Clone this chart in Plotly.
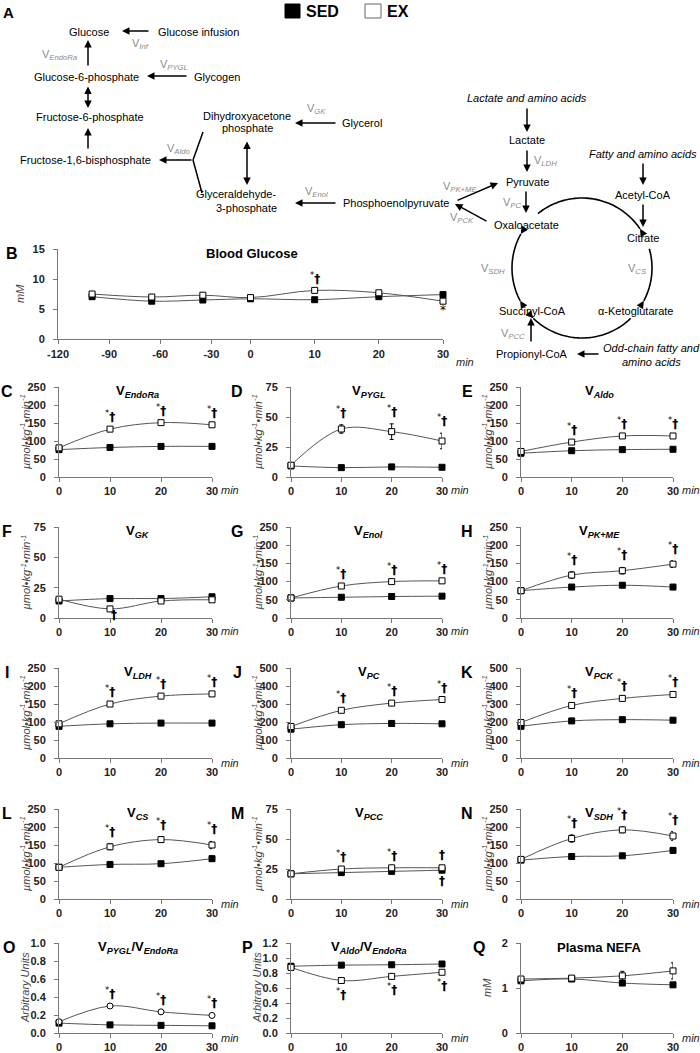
import numpy as np
import plotly.graph_objects as go

W, H = 700, 1053
FONT = "Liberation Sans, Arial, sans-serif"
SIG_FONT = "DejaVu Sans, Liberation Sans, sans-serif"
LINE = "#555555"
AXIS = "#777777"
V_GRAY = "#8a8a8a"

# ---- data ----
T = [0, 10, 20, 30]

B_TIME = [-100, -65, -35, 0, 10, 20, 30]
B_SED = [7.05, 6.3, 6.5, 6.7, 6.55, 7.05, 7.4]
B_EX = [7.5, 7.0, 7.3, 6.9, 8.1, 7.7, 6.3]
B_TICKS = [-120, -90, -60, -30, 0, 10, 20, 30]

ENDORA_SED = [76, 82, 85, 85]
ENDORA_EX = [81, 133, 151, 145]
PYGL_SED = [9.2, 7.8, 8.4, 8.1]
PYGL_EX = [9.8, 40, 37.8, 30]
PYGL_EX_ERR = [2, 3.5, 6.5, 6.5]
ALDO_SED = [66, 73, 76, 77]
ALDO_EX = [71, 97, 114, 114]
GK_SED = [14, 16, 16, 17.5]
GK_EX = [15.5, 7.5, 14, 15]
ENOL_SED = [55, 57, 59, 60]
ENOL_EX = [55, 88, 100, 102]
PKME_SED = [75, 85, 90, 85]
PKME_EX = [75, 118, 130, 148]
PKME_EX_ERR = [5, 9, 9, 9]
LDH_SED = [88, 95, 97, 97]
LDH_EX = [95, 150, 172, 178]
PC_SED = [160, 185, 192, 190]
PC_EX = [175, 265, 305, 325]
PCK_SED = [176, 206, 213, 210]
PCK_EX = [197, 292, 331, 353]
CS_SED = [88, 96, 98, 112]
CS_SED_ERR = [5, 4, 5, 8]
CS_EX = [88, 145, 165, 150]
CS_EX_ERR = [5, 8, 8, 10]
PCC_SED = [21, 22, 23, 24]
PCC_EX = [21, 25, 26, 26]
SDH_SED = [108, 118, 120, 135]
SDH_SED_ERR = [4, 4, 4, 8]
SDH_EX = [110, 168, 192, 175]
SDH_EX_ERR = [5, 10, 8, 12]
PYGL_RATIO_SED = [0.11, 0.09, 0.085, 0.08]
PYGL_RATIO_EX = [0.125, 0.30, 0.235, 0.195]
ALDO_RATIO_SED = [0.89, 0.905, 0.91, 0.92]
ALDO_RATIO_EX = [0.875, 0.70, 0.755, 0.81]
NEFA_SED = [1.16, 1.2, 1.11, 1.07]
NEFA_SED_ERR = [0.03, 0.03, 0.04, 0.05]
NEFA_EX = [1.2, 1.22, 1.27, 1.38]
NEFA_EX_ERR = [0.05, 0.04, 0.1, 0.18]

UNITS = "<i>µmol•kg<sup>-1</sup>•min<sup>-1</sup></i>"
SIG = "<sup>*</sup><b>†</b>"
ALL3 = [(10, SIG, 1), (20, SIG, 1), (30, SIG, 1)]

PANELS = [
    dict(letter="C", title="V<sub><i>EndoRa</i></sub>", sed=ENDORA_SED, ex=ENDORA_EX, ymax=250, dtick=50, ylab=UNITS, sig=ALL3),
    dict(letter="D", title="V<sub><i>PYGL</i></sub>", sed=PYGL_SED, ex=PYGL_EX, ex_err=PYGL_EX_ERR, ymax=75, dtick=25, ylab=UNITS, sig=ALL3),
    dict(letter="E", title="V<sub><i>Aldo</i></sub>", sed=ALDO_SED, ex=ALDO_EX, ymax=250, dtick=50, ylab=UNITS, sig=ALL3),
    dict(letter="F", title="V<sub><i>GK</i></sub>", sed=GK_SED, ex=GK_EX, ymax=75, dtick=25, ylab=UNITS, sig=[(10, "<b>†</b>", -1)]),
    dict(letter="G", title="V<sub><i>Enol</i></sub>", sed=ENOL_SED, ex=ENOL_EX, ymax=250, dtick=50, ylab=UNITS, sig=ALL3),
    dict(letter="H", title="V<sub><i>PK+ME</i></sub>", sed=PKME_SED, ex=PKME_EX, ex_err=PKME_EX_ERR, ymax=250, dtick=50, ylab=UNITS, sig=ALL3),
    dict(letter="I", title="V<sub><i>LDH</i></sub>", sed=LDH_SED, ex=LDH_EX, ymax=250, dtick=50, ylab=UNITS, sig=ALL3),
    dict(letter="J", title="V<sub><i>PC</i></sub>", sed=PC_SED, ex=PC_EX, ymax=500, dtick=100, ylab=UNITS, sig=ALL3),
    dict(letter="K", title="V<sub><i>PCK</i></sub>", sed=PCK_SED, ex=PCK_EX, ymax=500, dtick=100, ylab=UNITS, sig=ALL3),
    dict(letter="L", title="V<sub><i>CS</i></sub>", sed=CS_SED, ex=CS_EX, sed_err=CS_SED_ERR, ex_err=CS_EX_ERR, ymax=250, dtick=50, ylab=UNITS, sig=ALL3),
    dict(letter="M", title="V<sub><i>PCC</i></sub>", sed=PCC_SED, ex=PCC_EX, ymax=75, dtick=25, ylab=UNITS,
         sig=[(10, SIG, 1), (20, SIG, 1), (30, "<b>†</b>", 1), (30, "<b>†</b>", -1)]),
    dict(letter="N", title="V<sub><i>SDH</i></sub>", sed=SDH_SED, ex=SDH_EX, sed_err=SDH_SED_ERR, ex_err=SDH_EX_ERR, ymax=250, dtick=50, ylab=UNITS, sig=ALL3),
    dict(letter="O", title="V<sub><i>PYGL</i></sub>/V<sub><i>EndoRa</i></sub>", sed=PYGL_RATIO_SED, ex=PYGL_RATIO_EX, ymax=1.0, dtick=0.2, fmt=".1f", ylab="<i>Arbitrary Units</i>", sig=ALL3, ex_symbol="circle"),
    dict(letter="P", title="V<sub><i>Aldo</i></sub>/V<sub><i>EndoRa</i></sub>", sed=ALDO_RATIO_SED, ex=ALDO_RATIO_EX, ymax=1.2, dtick=0.2, fmt=".1f", ylab="<i>Arbitrary Units</i>",
         sig=[(10, SIG, -1), (20, SIG, -1), (30, SIG, -1)]),
    dict(letter="Q", title="Plasma NEFA", sed=NEFA_SED, ex=NEFA_EX, sed_err=NEFA_SED_ERR, ex_err=NEFA_EX_ERR, ymax=2, dtick=1, ylab="<i>mM</i>", sig=[]),
]

COLS = [(59, 212), (291, 442), (521, 673)]
ROWS = [(387, 477), (527, 618), (668, 758), (809, 899), (943, 1033)]


def px(x):
    return x / W


def py(y):
    return 1 - y / H


def b_axis(t):
    # broken time axis of panel B: basal period compressed
    return np.interp(t, [-120, -30, 0, 30], [-30, -6.1, 0, 30])


fig = go.Figure()
annotations = []
shapes = []
layout_axes = {}

tick_font = dict(family=FONT, size=11, color="#222222", weight="bold")
axis_common = dict(showgrid=False, zeroline=False, showline=True, linecolor=AXIS, linewidth=1,
                   ticks="outside", ticklen=4, tickcolor=AXIS, tickwidth=1, tickfont=tick_font,
                   fixedrange=True, automargin=False)


def text(x, y, s, size=11, color="black", anchor="center", angle=0, **kw):
    annotations.append(dict(x=px(x), y=py(y), xref="paper", yref="paper", text=s, showarrow=False,
                            xanchor=anchor, yanchor="middle", textangle=angle,
                            font=dict(family=FONT, size=size, color=color), **kw))


def arrow(x0, y0, x1, y1, both=False):
    annotations.append(dict(x=px(x1), y=py(y1), xref="paper", yref="paper", ax=x0 - x1, ay=y0 - y1,
                            axref="pixel", ayref="pixel", text="", showarrow=True, arrowhead=2,
                            arrowsize=1, arrowwidth=1.5, arrowcolor="black",
                            arrowside="end+start" if both else "end", standoff=0, startstandoff=0))


def arc(cx, cy, r, a0, a1, both=False):
    ang = np.radians(np.linspace(a0, a1, 50))
    xs = cx + r * np.cos(ang)
    ys = cy - r * np.sin(ang)
    path = "M " + " L ".join(f"{px(x):.5f},{py(y):.5f}" for x, y in zip(xs, ys))
    shapes.append(dict(type="path", path=path, xref="paper", yref="paper",
                       line=dict(color="black", width=1.6)))
    step = 7 if a1 < a0 else -7
    for a_end, a_back in [(a1, a1 - step)] + ([(a0, a0 + step)] if both else []):
        e, b = np.radians(a_end), np.radians(a_back)
        arrow(cx + r * np.cos(b), cy - r * np.sin(b), cx + r * np.cos(e), cy - r * np.sin(e))


def v(name):
    return f"V<sub><i>{name}</i></sub>"


# ---- panel A: pathway diagram ----
text(8, 12, "<b>A</b>", size=15)
shapes.append(dict(type="rect", xref="paper", yref="paper", x0=px(285), x1=px(300), y0=py(18), y1=py(4),
                   fillcolor="black", line=dict(color="black", width=1)))
text(304, 11, "<b>SED</b>", size=16, anchor="left")
shapes.append(dict(type="rect", xref="paper", yref="paper", x0=px(365), x1=px(381), y0=py(18), y1=py(4),
                   fillcolor="white", line=dict(color="#666666", width=1)))
text(385, 11, "<b>EX</b>", size=16, anchor="left")

for label, x, y in [
    ("Glucose", 89, 32), ("Glucose infusion", 198, 32), ("Glucose-6-phosphate", 86, 77),
    ("Glycogen", 217, 77), ("Fructose-6-phosphate", 90, 117), ("Fructose-1,6-bisphosphate", 85, 160),
    ("Dihydroxyacetone", 247, 116), ("phosphate", 247, 128), ("Glycerol", 362, 123),
    ("Glyceraldehyde-", 236, 194), ("3-phosphate", 246, 208), ("Phosphoenolpyruvate", 396, 203),
    ("Lactate", 527, 140), ("Pyruvate", 527, 182), ("Oxaloacetate", 526, 225),
    ("Acetyl-CoA", 643, 195), ("Citrate", 643, 238), ("α-Ketoglutarate", 635, 311),
    ("Succinyl-CoA", 532, 311), ("Propionyl-CoA", 532, 354),
]:
    text(x, y, label)

for label, x, y in [
    ("Lactate and amino acids", 527, 98), ("Fatty and amino acids", 643, 154),
    ("Odd-chain fatty and", 651, 348), ("amino acids", 651, 362),
]:
    text(x, y, f"<i>{label}</i>")

for name, x, y in [
    ("Inf", 140, 44), ("EndoRa", 60, 55), ("PYGL", 174, 65), ("GK", 316, 109), ("Aldo", 178, 149),
    ("Enol", 316, 192), ("PK+ME", 460, 187), ("PC", 512, 203), ("PCK", 462, 218),
    ("SDH", 493, 269), ("CS", 637, 269), ("PCC", 513, 334),
]:
    text(x, y, v(name), color=V_GRAY)
text(532, 161, v("LDH"), color=V_GRAY, anchor="left")

arrow(150, 31, 122, 31)
arrow(88, 67, 88, 40)
arrow(188, 76, 147, 76)
arrow(88, 85, 88, 108, both=True)
arrow(88, 150, 88, 128)
arrow(193, 160, 159, 160)
for x1, y1 in [(203, 132), (202, 193)]:
    shapes.append(dict(type="line", xref="paper", yref="paper", x0=px(193), y0=py(160), x1=px(x1), y1=py(y1),
                       line=dict(color="black", width=1.5)))
arrow(337, 123, 295, 123)
arrow(247, 140, 247, 185, both=True)
arrow(337, 203, 295, 203)
arrow(527, 107, 527, 132)
arrow(527, 149, 527, 172)
arrow(456, 201, 498, 183)
arrow(488, 222, 455, 204)
arrow(526, 190, 526, 213)
arrow(643, 162, 643, 185)
arrow(643, 203, 643, 227)
arrow(531, 343, 531, 318)
arrow(600, 354, 577, 354)

arc(582, 268, 70, 129, 34)
arc(582, 268, 70, 16, -28)
arc(582, 268, 70, -46, -134)
arc(582, 268, 70, 151, 208, both=True)


def sed_ex_traces(x, sed, ex, xa, ya, sed_err=None, ex_err=None, ex_symbol="square"):
    for ys, err, fill, sym in [(sed, sed_err, "black", "square"), (ex, ex_err, "white", ex_symbol)]:
        fig.add_trace(go.Scatter(
            x=x, y=ys, xaxis=xa, yaxis=ya, mode="lines+markers", cliponaxis=False,
            line=dict(color=LINE, width=1, shape="spline"),
            marker=dict(symbol=sym, size=6, color=fill, line=dict(color="black", width=1)),
            error_y=dict(type="data", array=err, color="black", thickness=1, width=2, visible=err is not None),
            showlegend=False, hoverinfo="x+y"))


def sig_note(x, y, s, xa, ya, shift, xshift=0):
    annotations.append(dict(x=x, y=y, xref=xa, yref=ya, yshift=shift, xshift=xshift, text=s,
                            showarrow=False, font=dict(family=SIG_FONT, size=12, color="black")))


# ---- panel B: blood glucose ----
sed_ex_traces(b_axis(B_TIME), B_SED, B_EX, "x", "y")
layout_axes["xaxis"] = dict(axis_common, domain=[px(58), px(443)], range=[-30, 30], anchor="y",
                            tickvals=b_axis(B_TICKS), ticktext=[str(t) for t in B_TICKS], ticklabelstandoff=1)
layout_axes["yaxis"] = dict(axis_common, domain=[py(339), py(249)], range=[0, 15], dtick=5, anchor="x",
                            ticklabelstandoff=6)
text(12, 253, "<b>B</b>", size=16)
text(252, 253, "<b>Blood Glucose</b>", size=13)
text(20, 294, "<i>mM</i>", size=11, color="#444444", angle=-90)
annotations.append(dict(x=30, y=py(339), xref="x", yref="paper", yshift=-15, xshift=22, text="<i>min</i>",
                        showarrow=False, font=dict(family=FONT, size=11, color="#222222")))
sig_note(b_axis(10), B_EX[4], SIG, "x", "y", 12)
sig_note(30, B_EX[6], "*", "x", "y", -9)

# ---- panels C-Q ----
LETTER_X = {"O": 9, "P": 248, "Q": 479}
for i, p in enumerate(PANELS):
    n = i + 2
    row, col = divmod(i, 3)
    left, right = COLS[col]
    top, bottom = ROWS[row]
    xa, ya = f"x{n}", f"y{n}"
    sed_ex_traces(T, p["sed"], p["ex"], xa, ya, p.get("sed_err"), p.get("ex_err"), p.get("ex_symbol", "square"))
    layout_axes[f"xaxis{n}"] = dict(axis_common, domain=[px(left), px(right)], range=[0, 30], anchor=ya,
                                    tickvals=T, ticktext=[str(t) for t in T], ticklabelstandoff=0)
    layout_axes[f"yaxis{n}"] = dict(axis_common, domain=[py(bottom), py(top)], range=[0, p["ymax"]],
                                    dtick=p["dtick"], tickformat=p.get("fmt", ""), anchor=xa,
                                    ticklabelstandoff=6)
    text(LETTER_X.get(p["letter"], [7, 237, 467][col]), top + 4, f"<b>{p['letter']}</b>", size=16)
    text((left + right) / 2 + 2, top + 4, f"<b>{p['title']}</b>", size=13)
    text(left - 34, (top + bottom) / 2, p["ylab"], size=11, color="#444444", angle=-90)
    annotations.append(dict(x=30, y=py(bottom), xref=xa, yref="paper", yshift=-13, xshift=18,
                            text="<i>min</i>", showarrow=False,
                            font=dict(family=FONT, size=11, color="#222222")))
    errs = p.get("ex_err") or [0, 0, 0, 0]
    for t, s, side in p["sig"]:
        k = T.index(t)
        yv = p["ex"][k] + side * errs[k]
        if p["letter"] == "F":
            sig_note(t, yv, s, xa, ya, -6, 4)
        else:
            sig_note(t, yv, s, xa, ya, 13 * side)

fig.update_layout(
    width=W, height=H, margin=dict(l=0, r=0, t=0, b=0, pad=0),
    paper_bgcolor="white", plot_bgcolor="white",
    font=dict(family=FONT, size=11, color="black"),
    showlegend=False, annotations=annotations, shapes=shapes,
    **layout_axes,
)
fig.write_html("out.html", config={"displayModeBar": False},
               post_script="document.body.style.margin = '0';")
